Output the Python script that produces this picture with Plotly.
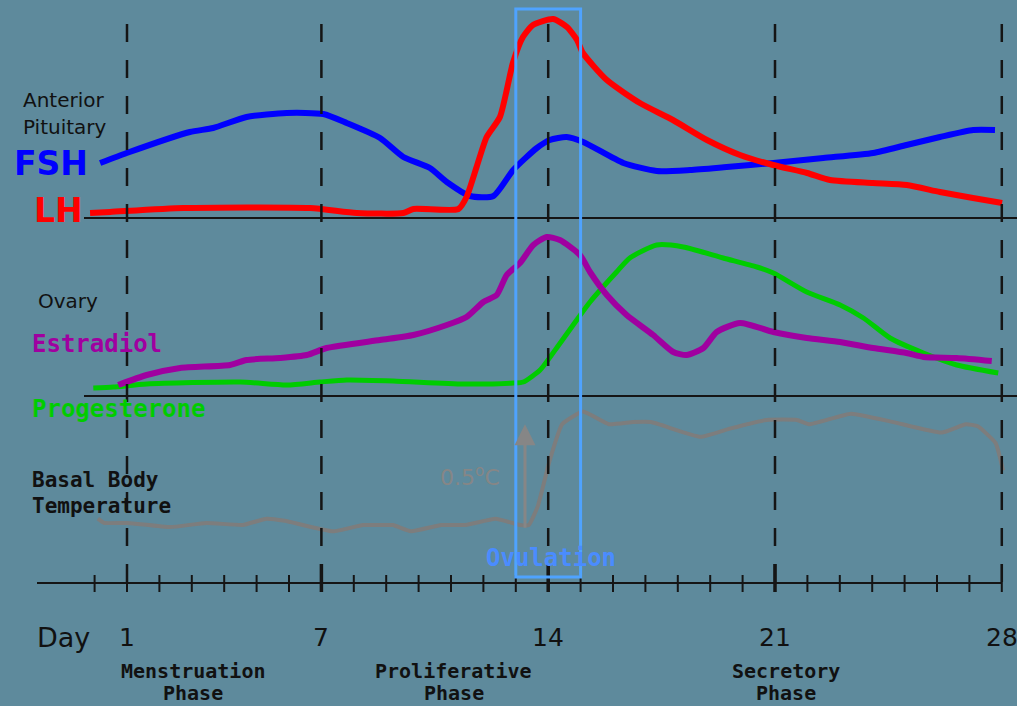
import plotly.graph_objects as go

W, H = 1017, 706
BG = "#5e8a9c"

# ---------------- data (days of the cycle, relative hormone levels) ----------------
fsh_day = [0.17, 0.99, 2.94, 3.66, 4.69, 5.93, 7.06, 7.78, 8.81, 9.53, 10.35, 10.87, 11.59,
           12.31, 12.92, 13.65, 14.05, 14.57, 15.08, 16.32, 17.35, 18.38, 19.51, 20.95,
           22.49, 24.03, 25.06, 26.09, 27.12, 27.79]
fsh = [55, 65, 86, 90, 101, 105, 104, 95, 80, 61, 50, 36, 22,
       22, 48, 70, 78, 81, 76, 55, 47, 48, 51, 55,
       60, 65, 73, 81, 88, 88]

lh_day = [-0.14, 0.48, 2.74, 6.65, 8.09, 9.53, 9.84, 11.23, 11.48, 11.79, 12.10, 12.51,
          12.91, 13.22, 13.53, 14.15, 14.58, 14.89, 15.07, 15.81, 16.83, 17.85, 18.90,
          19.92, 20.94, 21.99, 22.70, 24.02, 25.07, 26.09, 27.11, 28.01]
lh = [5, 6, 10, 10, 5, 5, 9, 9, 21, 51, 81, 101,
      155, 181, 193, 199, 191, 178, 165, 138, 115, 98, 78,
      63, 53, 45, 38, 35, 33, 26, 20, 15]

e2_day = [0.73, 1.61, 2.64, 4.18, 4.69, 5.72, 6.55, 7.16, 8.81, 9.84, 10.87, 11.48, 12.00,
          12.41, 12.72, 13.13, 13.54, 13.95, 14.36, 14.98, 15.29, 15.81, 16.42, 17.24,
          17.86, 18.27, 18.79, 19.20, 19.92, 20.95, 21.98, 23.01, 24.03, 25.06, 25.58,
          26.61, 27.69]
estradiol = [11, 21, 28, 31, 36, 38, 41, 48, 56, 61, 71, 79, 94,
             101, 121, 133, 151, 159, 156, 141, 124, 101, 81, 61,
             44, 41, 48, 64, 73, 64, 58, 54, 48, 43, 39,
             38, 35]

p4_day = [-0.04, 0.58, 1.61, 4.49, 5.93, 6.96, 7.78, 9.22, 11.38, 12.92, 13.23, 13.75,
          14.26, 14.77, 15.29, 16.11, 16.52, 17.35, 18.17, 19.40, 20.44, 20.95, 21.98,
          23.01, 23.73, 24.55, 25.58, 26.61, 27.89]
progesterone = [8, 9, 12, 14, 11, 14, 16, 15, 12, 13, 14, 26,
                48, 71, 94, 124, 138, 151, 149, 138, 129, 123, 104,
                91, 78, 58, 43, 31, 23]

bbt_day = [0.10, 0.29, 1.03, 2.33, 3.45, 4.57, 5.31, 5.87, 7.36, 8.28, 8.84, 9.21, 9.77,
           10.70, 11.45, 12.38, 13.12, 13.40, 13.68, 14.05, 14.43, 15.07, 15.87, 16.62,
           17.17, 18.70, 19.63, 20.74, 21.68, 22.05, 23.35, 24.65, 26.14, 26.89, 27.26,
           27.81, 28.04]
bbt = [36.33, 36.31, 36.31, 36.29, 36.31, 36.30, 36.33, 36.32, 36.27, 36.30, 36.30, 36.30, 36.27,
       36.30, 36.30, 36.33, 36.30, 36.30, 36.39, 36.61, 36.78, 36.84, 36.78, 36.79,
       36.79, 36.72, 36.76, 36.80, 36.80, 36.78, 36.83, 36.79, 36.74, 36.78, 36.77,
       36.69, 36.56]

tick_days = list(range(0, 29))
major_days = [1, 7, 14, 21, 28]
major_labels = ["1", "7", "14", "21", "28"]
ovulation_days = [13, 15]
bbt_base, bbt_rise = 36.28, 0.5
phases = [("Menstruation", 3.04), ("Proliferative", 11.08), ("Secretory", 21.34)]

# ---------------- geometry helpers ----------------
X0_PX, PX_PER_DAY = 94.6, 32.4


def day_at(px):
    return (px - X0_PX) / PX_PER_DAY


def py(p):
    return 1 - p / H


def px_x(p):
    return p / W


fig = go.Figure()

line_opts = dict(shape="spline", smoothing=0.6)
fig.add_trace(go.Scatter(x=fsh_day, y=fsh, yaxis="y", mode="lines",
                         line=dict(color="#0000ff", width=6, **line_opts), name="FSH"))
fig.add_trace(go.Scatter(x=lh_day, y=lh, yaxis="y", mode="lines",
                         line=dict(color="#ff0000", width=6, **line_opts), name="LH"))
fig.add_trace(go.Scatter(x=p4_day, y=progesterone, yaxis="y2", mode="lines",
                         line=dict(color="#00cc00", width=5, **line_opts), name="Progesterone"))
fig.add_trace(go.Scatter(x=e2_day, y=estradiol, yaxis="y2", mode="lines",
                         line=dict(color="#a000a0", width=6, **line_opts), name="Estradiol"))
fig.add_trace(go.Scatter(x=bbt_day, y=bbt, yaxis="y3", mode="lines",
                         line=dict(color="#7d7d7d", width=4, shape="spline", smoothing=0.4),
                         name="BBT"))

shapes = []
# separators (zero level of the hormone panels)
for yref in ["y", "y2"]:
    shapes.append(dict(type="line", xref="x", yref=yref, x0=day_at(84), x1=day_at(W),
                       y0=0, y1=0, line=dict(color="#151515", width=2), layer="below"))
# bottom day axis
shapes.append(dict(type="line", xref="x", yref="paper", x0=day_at(37), x1=28,
                   y0=py(583), y1=py(583), line=dict(color="#151515", width=2)))
for d in tick_days:
    major = d in major_days
    top = 564 if major else 575
    w = 3.5 if d in (7, 14, 21) else 2
    shapes.append(dict(type="line", xref="x", yref="paper", x0=d, x1=d,
                       y0=py(top), y1=py(592), line=dict(color="#151515", width=w)))
# dashed day guides
for d in major_days:
    shapes.append(dict(type="line", xref="x", yref="paper", x0=d, x1=d,
                       y0=py(24), y1=py(583),
                       line=dict(color="#151515", width=2.5, dash="18px,18px")))
# ovulation window
shapes.append(dict(type="rect", xref="x", yref="paper", x0=ovulation_days[0], x1=ovulation_days[1],
                   y0=py(577), y1=py(9), line=dict(color="#4fa3ff", width=3),
                   fillcolor="rgba(0,0,0,0)"))

ann = []


def label(text, x, y, size, color="#111111", family="DejaVu Sans", xanchor="left", bold=False):
    if bold:
        text = "<b>" + text + "</b>"
    ann.append(dict(text=text, x=px_x(x), y=py(y), xref="paper", yref="paper",
                    xanchor=xanchor, yanchor="middle", showarrow=False,
                    font=dict(size=size, color=color, family=family)))


label("Anterior", 21, 100, 20)
label("Pituitary", 21, 127, 20)
label("FSH", 90, 163, 33, "#0000ff", xanchor="right", bold=True)
label("LH", 85, 210, 33, "#ff0000", xanchor="right", bold=True)
label("Ovary", 36, 301, 20)
label("Estradiol", 30, 344, 24, "#a000a0", "DejaVu Sans Mono", bold=True)
label("Progesterone", 30, 409, 24, "#00cc00", "DejaVu Sans Mono", bold=True)
label("Basal Body", 30, 480, 21, "#111111", "DejaVu Sans Mono", bold=True)
label("Temperature", 30, 506, 21, "#111111", "DejaVu Sans Mono", bold=True)
label("0.5<sup>o</sup>C", 470, 476, 22, "#868686", xanchor="center")
label("Ovulation", 551, 558, 24, "#4a8cff", "DejaVu Sans Mono", xanchor="center", bold=True)
label("Day", 35, 637, 27)

for d, t in zip(major_days, major_labels):
    ann.append(dict(text=t, x=d, y=py(637), xref="x", yref="paper", xanchor="center",
                    yanchor="middle", showarrow=False,
                    font=dict(size=25, color="#111111", family="DejaVu Sans")))

for name, d in phases:
    for txt, yy in [(name, 671), ("Phase", 693)]:
        ann.append(dict(text="<b>" + txt + "</b>", x=d, y=py(yy), xref="x", yref="paper",
                        xanchor="center", yanchor="middle", showarrow=False,
                        font=dict(size=20, color="#111111", family="DejaVu Sans Mono")))

# 0.5 degree rise arrow
arrow_day = day_at(525)
ann.append(dict(text="", x=arrow_day, y=bbt_base + bbt_rise, xref="x", yref="y3",
                ax=arrow_day, ay=bbt_base, axref="x", ayref="y3", showarrow=True,
                arrowhead=2, arrowsize=1.4, arrowwidth=3, arrowcolor="#868686"))


def yrange(base_px, units_per_px=1.0, base_val=0.0):
    return [base_val - (H - base_px) * units_per_px, base_val + base_px * units_per_px]


fig.update_layout(
    width=W, height=H, margin=dict(l=0, r=0, t=0, b=0),
    paper_bgcolor=BG, plot_bgcolor=BG, showlegend=False,
    xaxis=dict(range=[day_at(0), day_at(W)], visible=False, fixedrange=True),
    yaxis=dict(range=yrange(218), visible=False, domain=[0, 1]),
    yaxis2=dict(range=yrange(396), visible=False, overlaying="y"),
    yaxis3=dict(range=yrange(525, 1 / 210, 36.3), visible=False, overlaying="y"),
    shapes=shapes, annotations=ann,
)

fig.write_html("out.html", config={"displayModeBar": False},
               post_script="document.body.style.margin='0';document.body.style.padding='0';"
                           "document.body.style.overflow='hidden';")
